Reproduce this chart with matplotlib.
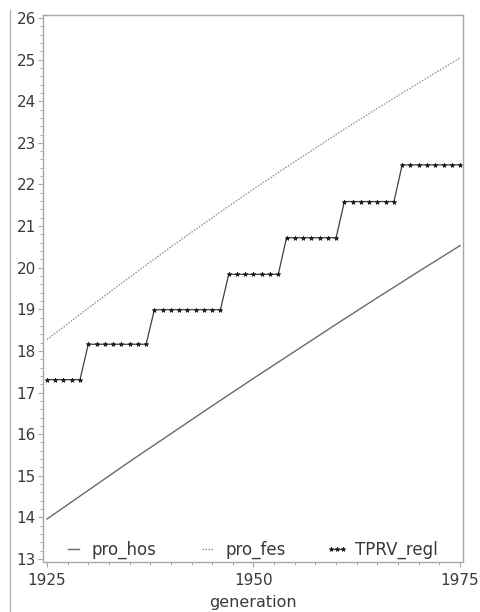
import numpy as np
import matplotlib
matplotlib.use("Agg")
import matplotlib.pyplot as plt
from matplotlib.lines import Line2D
from matplotlib.ticker import MultipleLocator

# ---- data ----
years_smooth = [1925, 1930, 1935, 1940, 1945, 1950, 1955, 1960, 1965, 1970, 1975]
pro_hos = [13.96, 14.65, 15.34, 16.01, 16.68, 17.34, 17.99, 18.64, 19.28, 19.91, 20.53]
pro_fes = [18.27, 19.03, 19.77, 20.50, 21.20, 21.89, 22.55, 23.20, 23.83, 24.44, 25.04]

years_regl = list(range(1925, 1976))
TPRV_regl = ([17.31] * 5 + [18.16] * 8 + [18.99] * 9 + [19.84] * 7 +
             [20.72] * 7 + [21.59] * 7 + [22.47] * 8)

xticks = [1925, 1950, 1975]
yticks = list(range(13, 27))

W, H = 481, 612
fig = plt.figure(figsize=(W / 100, H / 100), dpi=100)
ax = fig.add_axes([43 / W, 1 - 561.5 / H, (463 - 43) / W, (561.5 - 14.5) / H])

txt = "#3a3a3a"
spine_c = "#a8a8a8"

ax.plot(years_smooth, pro_hos, color="#6a6a6a", lw=1.0, label="pro_hos")
ax.plot(years_smooth, pro_fes, color="#8a8a8a", lw=0.9, linestyle=(0, (1.2, 1.2)),
        label="pro_fes")
ax.plot(years_regl, TPRV_regl, color="#404040", lw=0.9, marker="*",
        markersize=3.4, markerfacecolor="#1a1a1a", markeredgecolor="#1a1a1a",
        markeredgewidth=0.5, label="TPRV_regl")

ax.set_xlim(1924.52, 1975.36)
ax.set_ylim(12.94, 26.084)

ax.set_xticks(xticks)
ax.set_yticks(yticks)
ax.xaxis.set_minor_locator(MultipleLocator(2.5))
ax.yaxis.set_minor_locator(MultipleLocator(0.2))

ax.tick_params(axis="both", which="major", direction="out", length=3.5,
               width=0.8, color=spine_c, labelcolor=txt, labelsize=11)
ax.tick_params(axis="both", which="minor", direction="out", length=2,
               width=0.7, color=spine_c)
ax.tick_params(axis="y", which="major", pad=1.5)
ax.tick_params(axis="x", which="major", pad=4.5)

for s in ax.spines.values():
    s.set_color(spine_c)
    s.set_linewidth(1.0)

ax.set_xlabel("generation", color=txt, fontsize=11.5, labelpad=5)

leg = ax.legend(loc="center", bbox_to_anchor=(0.493, 0.021), ncol=3,
                frameon=False, fontsize=12, handlelength=1.3,
                handletextpad=0.4, columnspacing=2.45, numpoints=3,
                borderpad=0, borderaxespad=0)
for t in leg.get_texts():
    t.set_color(txt)

fig.add_artist(Line2D([9.5 / W, 9.5 / W], [0, 1 - 10 / H], color="#b4b4b4",
                      lw=1.0, transform=fig.transFigure))

fig.savefig("out.png", dpi=100, facecolor="white")
